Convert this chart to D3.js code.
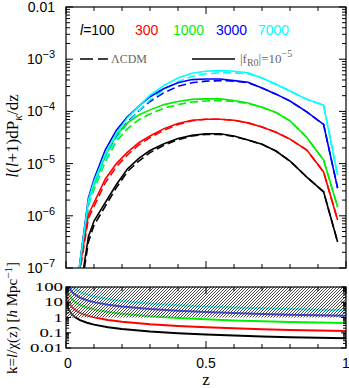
<!DOCTYPE html>
<html><head><meta charset="utf-8">
<script src="https://cdn.jsdelivr.net/npm/d3@7"></script>
<style>body{margin:0;background:#fff}svg{display:block}</style>
</head><body>
<svg id="c" width="349" height="388"></svg>
<script>
// ---- data ----
const zGrid = [0.04,0.08,0.1,0.14,0.18,0.22,0.26,0.3,0.35,0.4,0.45,0.5,0.55,0.6,0.65,0.7,0.75,0.8,0.86,0.92,0.97];
const ells = [100,300,1000,3000,7000];
const ellColors = ["#000000","#ff0000","#00ee00","#0000ff","#00ffff"];
const fr100 = [1.58e-8,3.98e-7,7.94e-7,1.78e-6,3.98e-6,7.94e-6,1.26e-5,1.78e-5,2.40e-5,3.02e-5,3.47e-5,3.72e-5,3.72e-5,3.39e-5,2.82e-5,2.34e-5,1.74e-5,1.12e-5,5.50e-6,2.88e-6,3.16e-7];
const lcdm100 = [1.26e-8,3.16e-7,6.61e-7,1.51e-6,3.47e-6,7.08e-6,1.12e-5,1.62e-5,2.24e-5,2.88e-5,3.39e-5,3.63e-5,3.63e-5,3.31e-5,2.82e-5,2.34e-5,1.74e-5,1.12e-5,5.50e-6,2.88e-6,3.16e-7];
const fr300 = [5.01e-8,1.05e-6,1.78e-6,5.01e-6,1.00e-5,1.66e-5,2.51e-5,3.39e-5,4.68e-5,5.89e-5,6.76e-5,7.08e-5,7.08e-5,6.76e-5,6.03e-5,5.01e-5,3.98e-5,2.95e-5,1.82e-5,6.92e-6,8.32e-7];
const lcdm300 = [3.98e-8,8.91e-7,1.51e-6,4.27e-6,8.71e-6,1.48e-5,2.29e-5,3.16e-5,4.37e-5,5.62e-5,6.61e-5,7.08e-5,7.08e-5,6.76e-5,6.03e-5,5.01e-5,3.98e-5,2.95e-5,1.82e-5,6.92e-6,8.32e-7];
const fr1000 = [5.01e-8,2.00e-6,3.98e-6,1.41e-5,3.55e-5,6.03e-5,8.51e-5,1.07e-4,1.35e-4,1.55e-4,1.70e-4,1.74e-4,1.74e-4,1.62e-4,1.45e-4,1.20e-4,9.55e-5,6.61e-5,3.16e-5,1.17e-5,1.48e-6];
const lcdm1000 = [3.98e-8,1.58e-6,3.16e-6,1.07e-5,2.69e-5,4.68e-5,6.92e-5,8.91e-5,1.15e-4,1.35e-4,1.51e-4,1.58e-4,1.62e-4,1.55e-4,1.41e-4,1.20e-4,9.55e-5,6.61e-5,3.16e-5,1.17e-5,1.48e-6];
const fr3000 = [5.01e-8,2.19e-6,5.01e-6,1.82e-5,4.37e-5,7.94e-5,1.26e-4,1.91e-4,2.75e-4,3.55e-4,4.07e-4,4.17e-4,4.17e-4,3.89e-4,3.63e-4,2.82e-4,2.14e-4,1.58e-4,9.77e-5,5.62e-5,3.39e-6];
const lcdm3000 = [3.98e-8,1.74e-6,3.98e-6,1.41e-5,3.39e-5,6.31e-5,1.02e-4,1.55e-4,2.29e-4,3.02e-4,3.55e-4,3.80e-4,3.89e-4,3.80e-4,3.55e-4,2.82e-4,2.14e-4,1.58e-4,9.77e-5,5.62e-5,3.39e-6];
const fr7000 = [5.01e-8,2.00e-6,4.47e-6,1.51e-5,3.80e-5,7.59e-5,1.26e-4,2.04e-4,3.16e-4,4.37e-4,5.37e-4,5.89e-4,6.03e-4,5.89e-4,5.50e-4,4.37e-4,3.31e-4,2.45e-4,1.70e-4,1.32e-4,6.03e-6];
const lcdm7000 = [3.98e-8,1.58e-6,3.55e-6,1.17e-5,2.95e-5,6.03e-5,1.02e-4,1.66e-4,2.63e-4,3.72e-4,4.68e-4,5.25e-4,5.50e-4,5.50e-4,5.25e-4,4.37e-4,3.31e-4,2.45e-4,1.70e-4,1.32e-4,6.03e-6];
// lower panel: k = l / chi(z) [h/Mpc]
const zK = [0.0003,0.002,0.005,0.01,0.02,0.03,0.05,0.075,0.1,0.15,0.2,0.3,0.4,0.5,0.6,0.7,0.8,0.9,1.0];
const k100 = [111,16.7,6.67,3.34,1.68,1.12,0.676,0.452,0.341,0.230,0.175,0.120,0.092,0.076,0.065,0.057,0.051,0.047,0.043];
const k300 = [333,50,20,10.0,5.03,3.36,2.03,1.36,1.02,0.691,0.524,0.359,0.276,0.227,0.194,0.171,0.154,0.140,0.130];
const k1000 = [1111,167,66.7,33.4,16.8,11.2,6.76,4.52,3.41,2.30,1.75,1.20,0.921,0.756,0.647,0.570,0.512,0.468,0.432];
const k3000 = [3333,500,200,100,50.3,33.6,20.3,13.6,10.2,6.91,5.24,3.59,2.76,2.27,1.94,1.71,1.54,1.40,1.30];
const k7000 = [7778,1167,467,234,117,78.4,47.3,31.7,23.9,16.1,12.2,8.37,6.45,5.30,4.53,3.99,3.59,3.27,3.03];
const kNonlinear = 1; // hatched region above this k
const xTickLabels = ["0","0.5","1"];
const yExponents = [-2,-3,-4,-5,-6,-7];
const kTickLabels = ["100","10","1","0.1","0.01"];

const frSeries = [fr100,fr300,fr1000,fr3000,fr7000];
const lcdmSeries = [lcdm100,lcdm300,lcdm1000,lcdm3000,lcdm7000];
const kSeries = [k100,k300,k1000,k3000,k7000];

// ---- layout ----
const svg = d3.select("#c");
const L = 66, R = 346, T1 = 7, B1 = 268, T2 = 287, B2 = 348;
const x = d3.scaleLinear().domain([0,1]).range([L,R]);
const y = d3.scaleLog().domain([1e-7,1e-2]).range([B1,T1]);
const yk = d3.scaleLog().domain([0.01,100]).range([B2,T2]);
const sans = "'Liberation Sans', Arial, Helvetica, sans-serif";
const serif = "'Liberation Serif', 'Times New Roman', serif";

const defs = svg.append("defs");
defs.append("clipPath").attr("id","clip1").append("rect").attr("x",L).attr("y",T1).attr("width",R-L).attr("height",B1-T1);
defs.append("clipPath").attr("id","clip2").append("rect").attr("x",L).attr("y",T2).attr("width",R-L).attr("height",B2-T2);
const pat = defs.append("pattern").attr("id","hatch").attr("patternUnits","userSpaceOnUse").attr("width",3).attr("height",3);
pat.append("rect").attr("width",3).attr("height",3).attr("fill","#fff").attr("fill-opacity",0.3);
pat.append("path").attr("d","M-1,1L1,-1M0,3L3,0M2,4L4,2").attr("stroke","#333").attr("stroke-width",0.9);

// ---- main panel curves ----
const line1 = d3.line().x((d,i)=>x(zGrid[i])).y(d=>y(d));
const g1 = svg.append("g").attr("clip-path","url(#clip1)");
lcdmSeries.forEach((s,j)=>{
  g1.append("path").attr("d",line1(s)).attr("fill","none").attr("stroke",ellColors[j])
    .attr("stroke-width",1.6).attr("stroke-dasharray","8,4");
});
frSeries.forEach((s,j)=>{
  g1.append("path").attr("d",line1(s)).attr("fill","none").attr("stroke",ellColors[j])
    .attr("stroke-width",1.6);
});

// ---- lower panel curves ----
const line2 = d3.line().x((d,i)=>x(zK[i])).y(d=>yk(d));
const g2 = svg.append("g").attr("clip-path","url(#clip2)");
kSeries.forEach((s,j)=>{
  g2.append("path").attr("d",line2(s)).attr("fill","none").attr("stroke",ellColors[j]).attr("stroke-width",2);
});
g2.append("rect").attr("x",x(0)).attr("y",yk(100)).attr("width",x(1)-x(0)).attr("height",yk(kNonlinear)-yk(100))
  .attr("fill","url(#hatch)");

// ---- axes ----
function frame(top,bottom){
  svg.append("rect").attr("x",L).attr("y",top).attr("width",R-L).attr("height",bottom-top)
    .attr("fill","none").attr("stroke","#000").attr("stroke-width",1.2);
}
frame(T1,B1); frame(T2,B2);

function xTicks(top,bottom){
  const minor = d3.range(0,1.0001,0.1);
  const ax = svg.append("g").attr("stroke","#000").attr("stroke-width",1);
  minor.forEach(v=>{
    const major = Math.abs(v*2-Math.round(v*2))<1e-6;
    const len = major?7:4;
    ax.append("line").attr("x1",x(v)).attr("x2",x(v)).attr("y1",bottom).attr("y2",bottom-len);
    ax.append("line").attr("x1",x(v)).attr("x2",x(v)).attr("y1",top).attr("y2",top+len);
  });
}
xTicks(T1,B1); xTicks(T2,B2);

function yLogTicks(scale,lo,hi,majLen,minLen){
  const ax = svg.append("g").attr("stroke","#000").attr("stroke-width",1);
  for(let e=lo;e<hi;e++){
    for(let m=1;m<10;m++){
      const v = m*Math.pow(10,e);
      const yy = scale(v);
      const len = m===1?majLen:minLen;
      ax.append("line").attr("x1",L).attr("x2",L+len).attr("y1",yy).attr("y2",yy);
      ax.append("line").attr("x1",R).attr("x2",R-len).attr("y1",yy).attr("y2",yy);
    }
  }
  const yy = scale(Math.pow(10,hi));
  ax.append("line").attr("x1",L).attr("x2",L+majLen).attr("y1",yy).attr("y2",yy);
  ax.append("line").attr("x1",R).attr("x2",R-majLen).attr("y1",yy).attr("y2",yy);
}
yLogTicks(y,-7,-2,7,4);
yLogTicks(yk,-2,2,5,3);

// main y tick labels
yExponents.forEach(e=>{
  const t = svg.append("text").attr("x",55).attr("y",y(Math.pow(10,e))+5)
    .attr("text-anchor","end").attr("font-family",sans).attr("font-size",14).attr("fill","#000");
  if(e===-2){ t.text("0.01"); }
  else { t.append("tspan").text("10"); t.append("tspan").attr("dy",-6).attr("font-size",11).text("\u2212"+(-e)); }
});
// lower y tick labels (wide lettering)
kTickLabels.forEach(s=>{
  svg.append("text").attr("transform",`translate(63,${yk(+s)+4}) scale(1.45,1)`).attr("text-anchor","end")
    .attr("font-family",serif).attr("font-size",13).text(s);
});
// x tick labels
xTickLabels.forEach(s=>{
  svg.append("text").attr("x",x(+s)+ (s==="0"?2:0)).attr("y",368).attr("text-anchor","middle")
    .attr("font-family",sans).attr("font-size",14).text(s);
});
svg.append("text").attr("x",x(0.5)).attr("y",385).attr("text-anchor","middle")
  .attr("font-family",serif).attr("font-size",17).text("z");

// y axis labels
const yl = svg.append("text").attr("transform","translate(18,136) rotate(-90)").attr("text-anchor","middle")
  .attr("font-family",serif).attr("font-size",17);
yl.append("tspan").attr("font-style","italic").text("l");
yl.append("tspan").text("(");
yl.append("tspan").attr("font-style","italic").text("l");
yl.append("tspan").text("+1)dP");
yl.append("tspan").attr("dy",4).attr("font-size",12).attr("font-style","italic").text("\u03ba");
yl.append("tspan").attr("dy",-4).text("/dz");

const kl = svg.append("text").attr("transform","translate(17,318) rotate(-90)").attr("text-anchor","middle")
  .attr("font-family",serif).attr("font-size",15);
kl.append("tspan").text("k=");
kl.append("tspan").attr("font-style","italic").text("l");
kl.append("tspan").text("/\u03c7(z)  [");
kl.append("tspan").attr("font-style","italic").text("h");
kl.append("tspan").text(" Mpc");
kl.append("tspan").attr("dy",-5).attr("font-size",11).text("\u22121");
kl.append("tspan").attr("dy",5).text("]");

// legend
const legX = [80,135,173,216,258];
ells.forEach((l,j)=>{
  const t = svg.append("text").attr("x",legX[j]).attr("y",35).attr("font-family",sans).attr("font-size",14)
    .attr("fill",ellColors[j]);
  if(j===0){ t.append("tspan").attr("font-style","italic").text("l"); t.append("tspan").text("="+l); }
  else t.text(l);
});
svg.append("line").attr("x1",80).attr("x2",108).attr("y1",59).attr("y2",59).attr("stroke","#000")
  .attr("stroke-width",1.6).attr("stroke-dasharray","13,5");
svg.append("text").attr("x",111).attr("y",63).attr("font-family",serif).attr("font-size",12).attr("fill","#666").text("\u039bCDM");
svg.append("line").attr("x1",192).attr("x2",235).attr("y1",59).attr("y2",59).attr("stroke","#000").attr("stroke-width",1.6);
const fl = svg.append("text").attr("x",240).attr("y",63).attr("font-family",serif).attr("font-size",13).attr("fill","#666");
fl.append("tspan").text("|f");
fl.append("tspan").attr("dy",3).attr("font-size",10).text("R0");
fl.append("tspan").attr("dy",-3).text("|=10");
fl.append("tspan").attr("dy",-6).attr("font-size",10).text("\u22125");
</script>
</body></html>
